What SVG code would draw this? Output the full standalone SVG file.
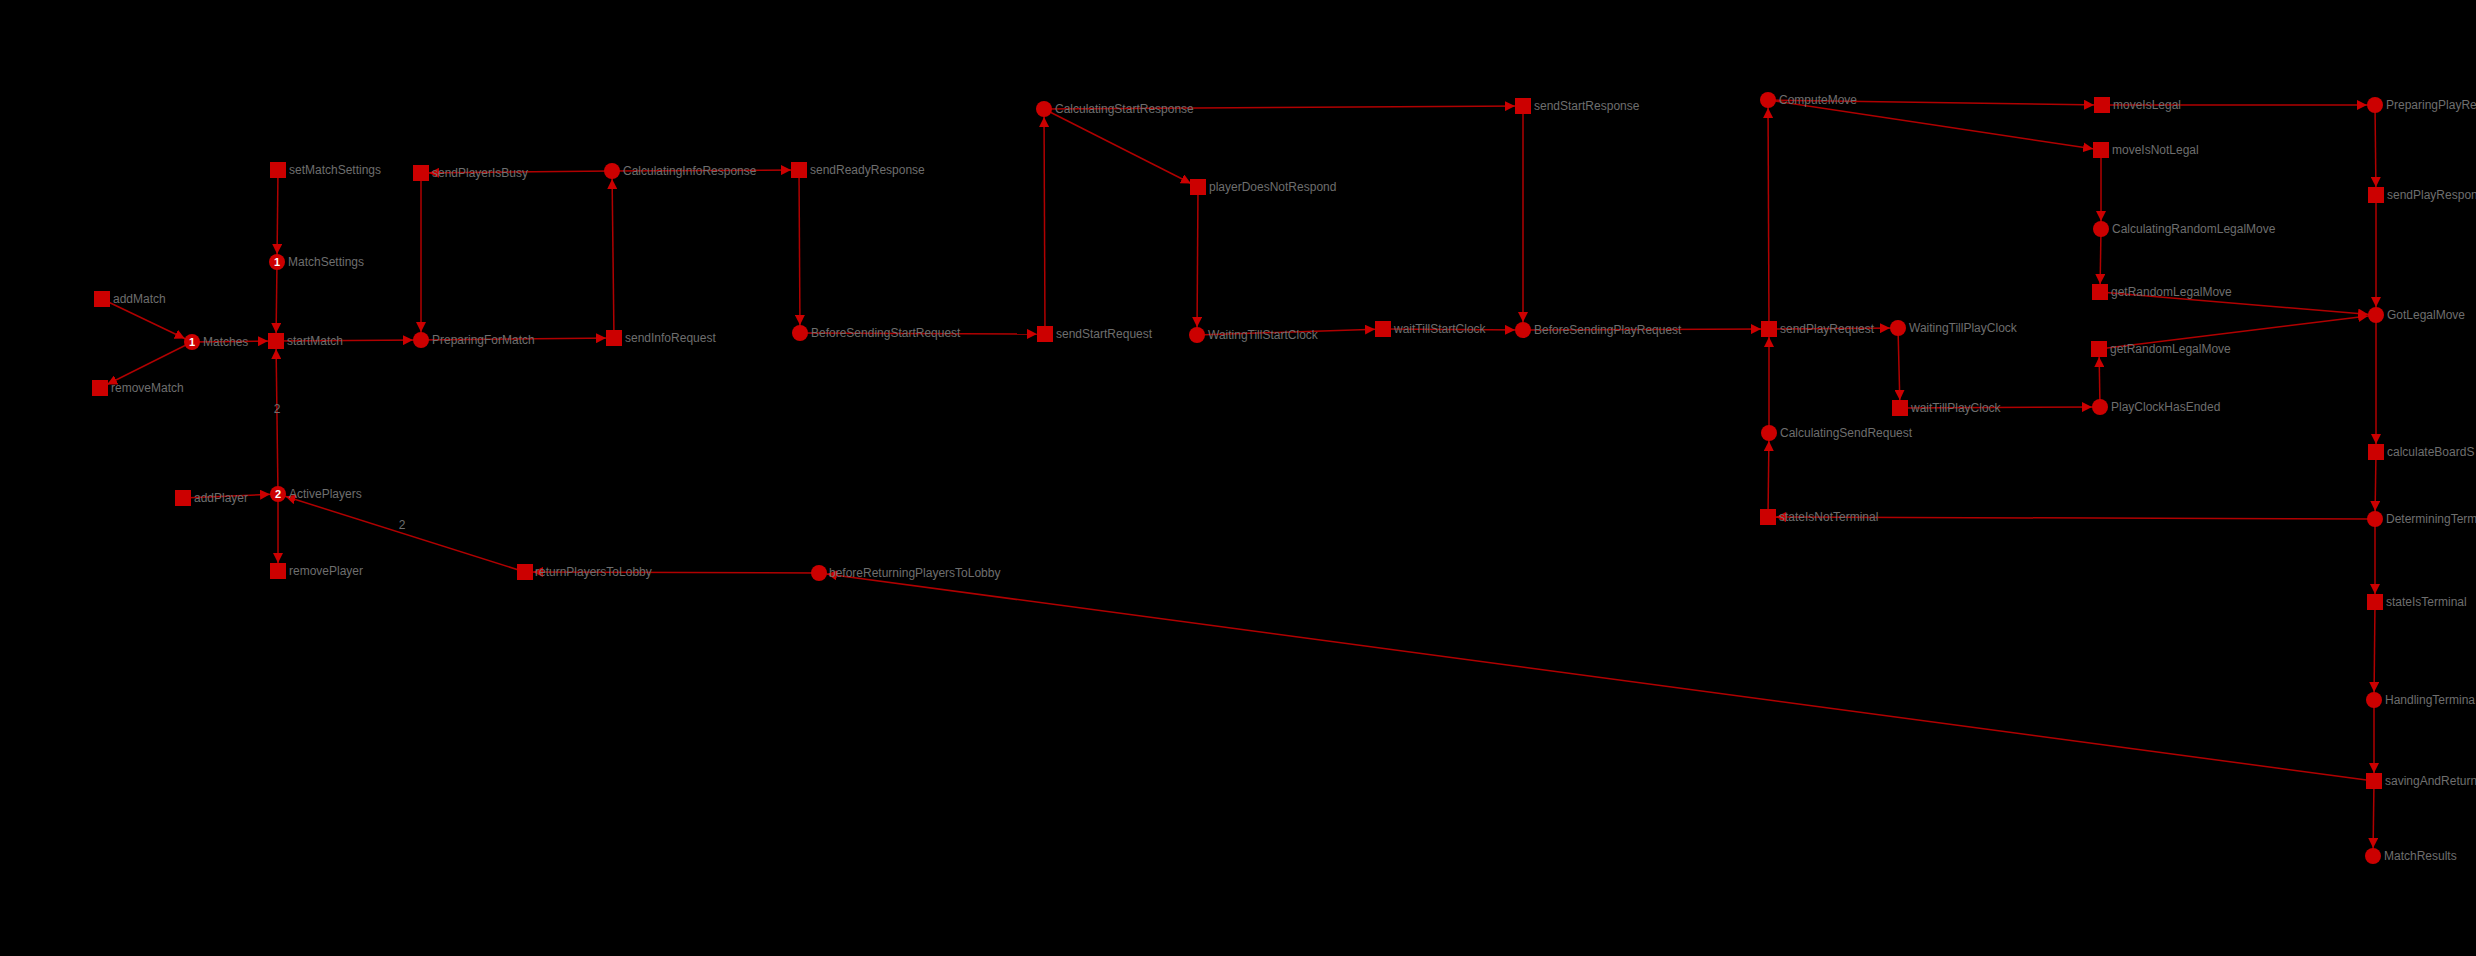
<svg xmlns="http://www.w3.org/2000/svg" width="2476" height="956" viewBox="0 0 2476 956">
<style>
.bg{fill:#000}
.e{stroke:#b00000;stroke-width:1.5;fill:none;marker-end:url(#ah)}
.t{fill:#cc0000}
.p{fill:#cc0000}
.l{font-family:"Liberation Sans",Arial,sans-serif;font-size:12px;fill:#6e6e6e}
.k{font-family:"Liberation Sans",Arial,sans-serif;font-size:11px;font-weight:bold;fill:#fff;text-anchor:middle}
.el{font-family:"Liberation Sans",Arial,sans-serif;font-size:12px;fill:#6e6e6e;text-anchor:middle}
</style>
<defs>
<marker id="ah" viewBox="0 0 20 10" markerUnits="userSpaceOnUse" markerWidth="20" markerHeight="10" refX="18" refY="5" orient="auto">
<path d="M0,0 L10,5 L0,10 z" fill="#cc0000"/>
</marker>
</defs>
<rect class="bg" x="0" y="0" width="2476" height="956"/>
<g id="connectors">
<line class="e" x1="102" y1="299" x2="192" y2="342"/>
<line class="e" x1="192" y1="342" x2="100" y2="388"/>
<line class="e" x1="192" y1="342" x2="276" y2="341"/>
<line class="e" x1="278" y1="170" x2="277" y2="262"/>
<line class="e" x1="277" y1="262" x2="276" y2="341"/>
<line class="e" x1="278" y1="494" x2="276" y2="341"/>
<line class="e" x1="276" y1="341" x2="421" y2="340"/>
<line class="e" x1="183" y1="498" x2="278" y2="494"/>
<line class="e" x1="278" y1="494" x2="278" y2="571"/>
<line class="e" x1="525" y1="572" x2="278" y2="494"/>
<line class="e" x1="819" y1="573" x2="525" y2="572"/>
<line class="e" x1="2374" y1="781" x2="819" y2="573"/>
<line class="e" x1="421" y1="173" x2="421" y2="340"/>
<line class="e" x1="612" y1="171" x2="421" y2="173"/>
<line class="e" x1="421" y1="340" x2="614" y2="338"/>
<line class="e" x1="614" y1="338" x2="612" y2="171"/>
<line class="e" x1="612" y1="171" x2="799" y2="170"/>
<line class="e" x1="799" y1="170" x2="800" y2="333"/>
<line class="e" x1="800" y1="333" x2="1045" y2="334"/>
<line class="e" x1="1045" y1="334" x2="1044" y2="109"/>
<line class="e" x1="1044" y1="109" x2="1523" y2="106"/>
<line class="e" x1="1044" y1="109" x2="1198" y2="187"/>
<line class="e" x1="1198" y1="187" x2="1197" y2="335"/>
<line class="e" x1="1197" y1="335" x2="1383" y2="329"/>
<line class="e" x1="1383" y1="329" x2="1523" y2="330"/>
<line class="e" x1="1523" y1="106" x2="1523" y2="330"/>
<line class="e" x1="1523" y1="330" x2="1769" y2="329"/>
<line class="e" x1="1769" y1="329" x2="1768" y2="100"/>
<line class="e" x1="1769" y1="329" x2="1898" y2="328"/>
<line class="e" x1="1898" y1="328" x2="1900" y2="408"/>
<line class="e" x1="1900" y1="408" x2="2100" y2="407"/>
<line class="e" x1="2100" y1="407" x2="2099" y2="349"/>
<line class="e" x1="2099" y1="349" x2="2376" y2="315"/>
<line class="e" x1="2100" y1="292" x2="2376" y2="315"/>
<line class="e" x1="1768" y1="100" x2="2102" y2="105"/>
<line class="e" x1="1768" y1="100" x2="2101" y2="150"/>
<line class="e" x1="2101" y1="150" x2="2101" y2="229"/>
<line class="e" x1="2101" y1="229" x2="2100" y2="292"/>
<line class="e" x1="2102" y1="105" x2="2375" y2="105"/>
<line class="e" x1="2375" y1="105" x2="2376" y2="195"/>
<line class="e" x1="2376" y1="195" x2="2376" y2="315"/>
<line class="e" x1="2376" y1="315" x2="2376" y2="452"/>
<line class="e" x1="2376" y1="452" x2="2375" y2="519"/>
<line class="e" x1="2375" y1="519" x2="1768" y2="517"/>
<line class="e" x1="1768" y1="517" x2="1769" y2="433"/>
<line class="e" x1="1769" y1="433" x2="1769" y2="329"/>
<line class="e" x1="2375" y1="519" x2="2375" y2="602"/>
<line class="e" x1="2375" y1="602" x2="2374" y2="700"/>
<line class="e" x1="2374" y1="700" x2="2374" y2="781"/>
<line class="e" x1="2374" y1="781" x2="2373" y2="856"/>
<text class="el" x="277" y="413">2</text>
<text class="el" x="402" y="529">2</text>
</g>
<g id="addMatch"><rect class="t" x="94" y="291" width="16" height="16"/><text class="l" x="113" y="303">addMatch</text></g>
<g id="removeMatch"><rect class="t" x="92" y="380" width="16" height="16"/><text class="l" x="111" y="392">removeMatch</text></g>
<g id="setMatchSettings"><rect class="t" x="270" y="162" width="16" height="16"/><text class="l" x="289" y="174">setMatchSettings</text></g>
<g id="startMatch"><rect class="t" x="268" y="333" width="16" height="16"/><text class="l" x="287" y="345">startMatch</text></g>
<g id="addPlayer"><rect class="t" x="175" y="490" width="16" height="16"/><text class="l" x="194" y="502">addPlayer</text></g>
<g id="removePlayer"><rect class="t" x="270" y="563" width="16" height="16"/><text class="l" x="289" y="575">removePlayer</text></g>
<g id="returnPlayersToLobby"><rect class="t" x="517" y="564" width="16" height="16"/><text class="l" x="535" y="576">returnPlayersToLobby</text></g>
<g id="sendPlayerIsBusy"><rect class="t" x="413" y="165" width="16" height="16"/><text class="l" x="432" y="177">sendPlayerIsBusy</text></g>
<g id="sendInfoRequest"><rect class="t" x="606" y="330" width="16" height="16"/><text class="l" x="625" y="342">sendInfoRequest</text></g>
<g id="sendReadyResponse"><rect class="t" x="791" y="162" width="16" height="16"/><text class="l" x="810" y="174">sendReadyResponse</text></g>
<g id="sendStartRequest"><rect class="t" x="1037" y="326" width="16" height="16"/><text class="l" x="1056" y="338">sendStartRequest</text></g>
<g id="playerDoesNotRespond"><rect class="t" x="1190" y="179" width="16" height="16"/><text class="l" x="1209" y="191">playerDoesNotRespond</text></g>
<g id="sendStartResponse"><rect class="t" x="1515" y="98" width="16" height="16"/><text class="l" x="1534" y="110">sendStartResponse</text></g>
<g id="waitTillStartClock"><rect class="t" x="1375" y="321" width="16" height="16"/><text class="l" x="1394" y="333">waitTillStartClock</text></g>
<g id="sendPlayRequest"><rect class="t" x="1761" y="321" width="16" height="16"/><text class="l" x="1780" y="333">sendPlayRequest</text></g>
<g id="moveIsLegal"><rect class="t" x="2094" y="97" width="16" height="16"/><text class="l" x="2113" y="109">moveIsLegal</text></g>
<g id="moveIsNotLegal"><rect class="t" x="2093" y="142" width="16" height="16"/><text class="l" x="2112" y="154">moveIsNotLegal</text></g>
<g id="getRandomLegalMove1"><rect class="t" x="2092" y="284" width="16" height="16"/><text class="l" x="2111" y="296">getRandomLegalMove</text></g>
<g id="getRandomLegalMove2"><rect class="t" x="2091" y="341" width="16" height="16"/><text class="l" x="2110" y="353">getRandomLegalMove</text></g>
<g id="waitTillPlayClock"><rect class="t" x="1892" y="400" width="16" height="16"/><text class="l" x="1911" y="412">waitTillPlayClock</text></g>
<g id="stateIsNotTerminal"><rect class="t" x="1760" y="509" width="16" height="16"/><text class="l" x="1779" y="521">stateIsNotTerminal</text></g>
<g id="sendPlayResponse"><rect class="t" x="2368" y="187" width="16" height="16"/><text class="l" x="2387" y="199">sendPlayRespon</text></g>
<g id="calculateBoardState"><rect class="t" x="2368" y="444" width="16" height="16"/><text class="l" x="2387" y="456">calculateBoardS</text></g>
<g id="stateIsTerminal"><rect class="t" x="2367" y="594" width="16" height="16"/><text class="l" x="2386" y="606">stateIsTerminal</text></g>
<g id="savingAndReturning"><rect class="t" x="2366" y="773" width="16" height="16"/><text class="l" x="2385" y="785">savingAndReturn</text></g>
<g id="Matches"><circle class="p" cx="192" cy="342" r="8"/><text class="k" x="192" y="346">1</text><text class="l" x="203" y="346">Matches</text></g>
<g id="MatchSettings"><circle class="p" cx="277" cy="262" r="8"/><text class="k" x="277" y="266">1</text><text class="l" x="288" y="266">MatchSettings</text></g>
<g id="ActivePlayers"><circle class="p" cx="278" cy="494" r="8"/><text class="k" x="278" y="498">2</text><text class="l" x="289" y="498">ActivePlayers</text></g>
<g id="PreparingForMatch"><circle class="p" cx="421" cy="340" r="8"/><text class="l" x="432" y="344">PreparingForMatch</text></g>
<g id="CalculatingInfoResponse"><circle class="p" cx="612" cy="171" r="8"/><text class="l" x="623" y="175">CalculatingInfoResponse</text></g>
<g id="BeforeSendingStartRequest"><circle class="p" cx="800" cy="333" r="8"/><text class="l" x="811" y="337">BeforeSendingStartRequest</text></g>
<g id="CalculatingStartResponse"><circle class="p" cx="1044" cy="109" r="8"/><text class="l" x="1055" y="113">CalculatingStartResponse</text></g>
<g id="WaitingTillStartClock"><circle class="p" cx="1197" cy="335" r="8"/><text class="l" x="1208" y="339">WaitingTillStartClock</text></g>
<g id="BeforeSendingPlayRequest"><circle class="p" cx="1523" cy="330" r="8"/><text class="l" x="1534" y="334">BeforeSendingPlayRequest</text></g>
<g id="beforeReturningPlayersToLobby"><circle class="p" cx="819" cy="573" r="8"/><text class="l" x="829" y="577">beforeReturningPlayersToLobby</text></g>
<g id="ComputeMove"><circle class="p" cx="1768" cy="100" r="8"/><text class="l" x="1779" y="104">ComputeMove</text></g>
<g id="WaitingTillPlayClock"><circle class="p" cx="1898" cy="328" r="8"/><text class="l" x="1909" y="332">WaitingTillPlayClock</text></g>
<g id="PlayClockHasEnded"><circle class="p" cx="2100" cy="407" r="8"/><text class="l" x="2111" y="411">PlayClockHasEnded</text></g>
<g id="CalculatingRandomLegalMove"><circle class="p" cx="2101" cy="229" r="8"/><text class="l" x="2112" y="233">CalculatingRandomLegalMove</text></g>
<g id="CalculatingSendRequest"><circle class="p" cx="1769" cy="433" r="8"/><text class="l" x="1780" y="437">CalculatingSendRequest</text></g>
<g id="PreparingPlayResponse"><circle class="p" cx="2375" cy="105" r="8"/><text class="l" x="2386" y="109">PreparingPlayRe</text></g>
<g id="GotLegalMove"><circle class="p" cx="2376" cy="315" r="8"/><text class="l" x="2387" y="319">GotLegalMove</text></g>
<g id="DeterminingTerminal"><circle class="p" cx="2375" cy="519" r="8"/><text class="l" x="2386" y="523">DeterminingTerm</text></g>
<g id="HandlingTerminal"><circle class="p" cx="2374" cy="700" r="8"/><text class="l" x="2385" y="704">HandlingTermina</text></g>
<g id="MatchResults"><circle class="p" cx="2373" cy="856" r="8"/><text class="l" x="2384" y="860">MatchResults</text></g>
</svg>
